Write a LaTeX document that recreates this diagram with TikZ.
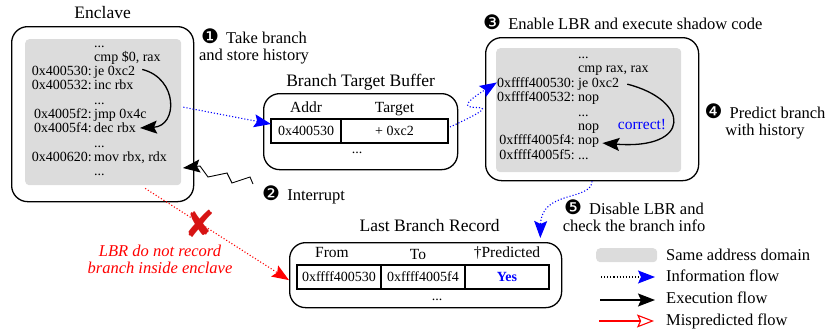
\documentclass[tikz,border=0pt]{standalone}
\usepackage{fontspec}
\setmainfont{Liberation Serif}
\newfontfamily\dingfont{DejaVu Sans}
\usetikzlibrary{positioning, arrows.meta}

\definecolor{codegray}{RGB}{220,220,220}
\definecolor{xred}{RGB}{215,20,20}
\newcommand{\circnum}[1]{{\dingfont\fontsize{20}{20}\selectfont #1}\hspace{3pt}}
\newcommand{\codedots}{...}

\begin{document}
\begin{tikzpicture}[x=1pt, y=-1pt,
    every node/.style={inner sep=0pt, font=\fontsize{14}{15}\selectfont},
    note/.style={font=\fontsize{16.5}{17}\selectfont, align=center},
    boxtitle/.style={font=\fontsize{17.5}{18}\selectfont, text depth=0pt},
    colhead/.style={font=\fontsize{15.5}{16}\selectfont, text depth=0pt},
    roundbox/.style={draw, line width=1.3pt, rounded corners=16pt, anchor=north west},
    codebg/.style={fill=codegray, rounded corners=4pt, anchor=north west},
    cell/.style={draw, line width=1.5pt, outer sep=0pt, minimum height=24pt},
    bigtip/.style={-{Stealth[length=17pt, width=13pt, inset=3pt]}},
    info/.style={bigtip, blue, dotted, line width=1.1pt},
    exec/.style={bigtip, line width=1.3pt}]

   \useasboundingbox (0,0) rectangle (831,332);

   % enclave
   \node[roundbox, minimum width=182pt, minimum height=175pt] (enclave) at (11,26) {};
   \node[codebg, minimum width=156pt, minimum height=146pt] (ecode) at (25,39) {};
   \node[boxtitle, above=7pt of enclave] (enclaveName) {Enclave};
   \foreach \n/\a/\i [count=\k from 0] in {e0//\codedots, e1//{cmp \$0, rax},
       je/0x400530:/je 0xc2, e3/0x400532:/inc rbx, e4//\codedots, e5/0x4005f2:/jmp 0x4c,
       dec/0x4005f4:/dec rbx, e7//\codedots, e8/0x400620:/{mov rbx, rdx}, e9//\codedots}
   {
      \node[anchor=base east] (\n-a) at (92,{47+14.3*\k}) {\a};
      \node[anchor=base west] (\n) at (94,{47+14.3*\k}) {\i};
   }
   \draw[exec] ([shift={(7,-3)}]je.east) .. controls +(36,9) and +(38,-2) .. ([xshift=4pt]dec.east);

   % branch target buffer
   \node[roundbox, minimum width=194pt, minimum height=76pt] (btb) at (263,93) {};
   \node[boxtitle, above=6pt of btb] (btbName) {Branch Target Buffer};
   \node[cell, minimum width=70pt, anchor=north west] (btbA) at (271,119) {0x400530};
   \node[cell, minimum width=107pt, right=0pt of btbA] (btbT) {+ 0xc2};
   \node[colhead, above=6pt of btbA] (addrH) {Addr};
   \node[colhead, above=6pt of btbT] (targetH) {Target};
   \node[anchor=base] (btbD) at (357,153) {\codedots};

   % shadow code
   \node[roundbox, minimum width=213pt, minimum height=143pt] (shadow) at (485,37) {};
   \node[codebg, minimum width=185pt, minimum height=124pt] (scode) at (496,48) {};
   \foreach \n/\a/\i [count=\k from 0] in {s0//\codedots, s1//{cmp rax, rax},
       sje/0xffff400530:/je 0xc2, s3/0xffff400532:/nop, s4//\codedots, s5//nop,
       snop/0xffff4005f4:/nop, s7/0xffff4005f5:/\codedots}
   {
      \node[anchor=base east] (\n-a) at (575,{58.5+14.4*\k}) {\a};
      \node[anchor=base west] (\n) at (578,{58.5+14.4*\k}) {\i};
   }
   \draw[exec] ([xshift=8pt]sje.east) .. controls +(63,16) and +(90,7) .. ([xshift=3pt]snop.east);
   \node[text=blue, font=\fontsize{15.5}{16}\selectfont] (correct) at (642,125) {correct!};

   % last branch record
   \node[roundbox, minimum width=272pt, minimum height=65pt] (lbr) at (289,242) {};
   \node[boxtitle, above=10pt of lbr, xshift=4pt] (lbrName) {Last Branch Record};
   \node[cell, minimum width=84pt, anchor=north west] (fromC) at (297,265) {0xffff400530};
   \node[cell, minimum width=84pt, right=0pt of fromC] (toC) {0xffff4005f4};
   \node[cell, minimum width=84pt, right=0pt of toC, text=blue] (predC) {\bfseries Yes};
   \node[colhead, above=7pt of fromC, xshift=-7pt] (fromH) {From};
   \node[colhead, above=5pt of toC, xshift=-5pt] (toH) {To};
   \node[colhead, above=7pt of predC] (predH) {†Predicted};
   \node[anchor=base] (lbrD) at (437,300) {\codedots};

   % steps (base = last line)
   \node[note, anchor=base] (takeL) at (254,60) {\circnum{❶} Take branch\\and store history};
   \node[note, anchor=base west] (intrL) at (262,200) {\circnum{❷} Interrupt};
   \node[note, anchor=base west] (enableL) at (483,30) {\circnum{❸} Enable LBR and execute shadow code};
   \node[note, anchor=base] (predictL) at (765,135) {\circnum{❹} Predict branch\\with history};
   \node[note, anchor=base] (disableL) at (634,231) {\circnum{❺} Disable LBR and\\check the branch info};
   \node[note, anchor=base, text=red, font=\fontsize{16.5}{17}\selectfont\itshape] (noRec)
      at (160,273) {LBR do not record\\branch inside enclave};

   \coordinate (fromE) at ([shift={(2,-5)}]ecode.east);
   \coordinate (leak) at ([shift={(42,3)}]ecode.south);
   \coordinate (lbrIn) at ([shift={(-22,-4)}]lbr.north east);
   \coordinate (intr) at ([shift={(-9,-16)}]intrL.base west);

   \draw[info] (fromE) -- ([yshift=7pt]btbA.west);
   \draw[info] ([shift={(2,-4)}]btbT.east) .. controls +(80,-37) and +(-67,42) .. (sje-a.west);
   \draw[info] (shadow.south) .. controls +(-1.5,20) and +(1,-48) .. (lbrIn);
   \draw[info, red] (leak) -- ([yshift=-5pt]lbr.west);
   \node[text=xred, font=\dingfont\fontsize{37}{37}\selectfont] (cross) at (200,224) {✘};
   \draw[bigtip, line width=0.9pt] (intr) -- ++(-3,-7) -- ++(-18,6) -- ++(-5,-10)
      -- ++(-19,4) -- ++(-8,-11) -- ++(-17,2);

   % legend
   \node[codebg, minimum width=61pt, minimum height=14pt] (legDomain) at (596,248) {};
   \node[note, anchor=base west] (legDomainT) at (666,260) {Same address domain};
   \node[note, anchor=base west] (legInfoT) at (666,281) {Information flow};
   \node[note, anchor=base west] (legExecT) at (666,303) {Execution flow};
   \node[note, anchor=base west] (legMissT) at (666,325) {Mispredicted flow};
   \coordinate (legInfoS) at (601,277);
   \coordinate (legInfoE) at (655,277);
   \coordinate (legExecS) at (600,300);
   \coordinate (legExecE) at (655,300);
   \coordinate (legMissS) at (599,321);
   \coordinate (legMissE) at (654,321);
   \draw[dotted, line width=1.1pt, -{Stealth[length=17pt, width=13pt, inset=3pt, color=blue]}]
      (legInfoS) -- (legInfoE);
   \draw[exec] (legExecS) -- (legExecE);
   \draw[red, line width=1.1pt, -{Stealth[open, length=17pt, width=13pt, inset=3pt]}]
      (legMissS) -- (legMissE);

\end{tikzpicture}
\end{document}
